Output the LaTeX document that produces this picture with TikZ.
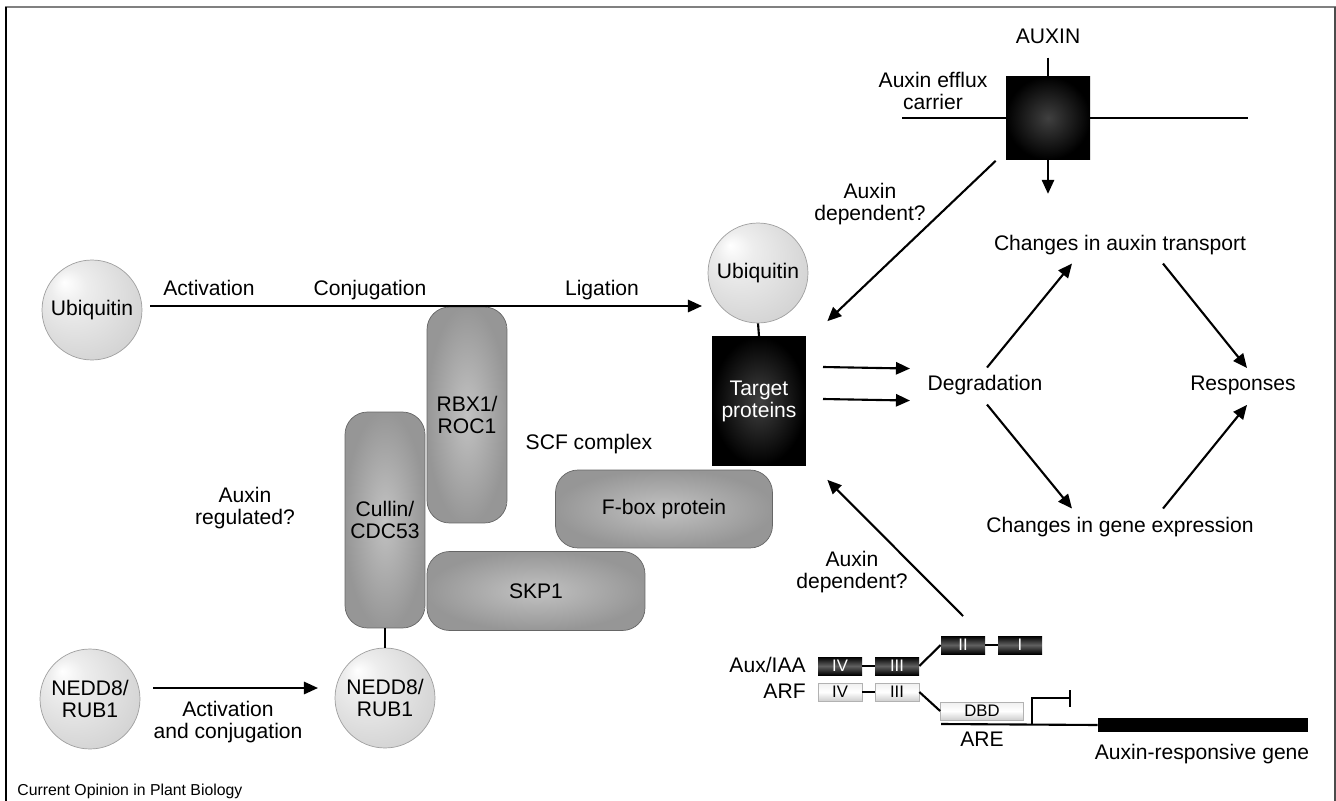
\documentclass[tikz,border=0pt]{standalone}
\usepackage{fontspec}
\setmainfont{Liberation Sans}
\usetikzlibrary{arrows.meta,calc}
\pgfdeclareradialshading{globeshade}{\pgfpoint{-14bp}{14bp}}{color(0bp)=(white); color(9bp)=(white!93!black); color(32bp)=(white!83!black); color(50bp)=(white!73!black)}

\begin{document}
\begin{tikzpicture}[x=0.02cm,y=-0.02cm,font=\fontsize{12}{12.5}\selectfont,
  globe/.style={circle,minimum size=2cm,inner sep=0,shading=globeshade,draw=gray!75,align=center},
  subunit/.style={rectangle,rounded corners=0.45cm,inner sep=0,inner color=gray!48,outer color=gray!82,draw=black!60,align=center},
  blackbox/.style={rectangle,inner sep=0,inner color=black!75,outer color=black,text=white,align=center},
  darkexon/.style={rectangle,minimum width=0.88cm,minimum height=0.36cm,inner sep=0,top color=black,bottom color=black,middle color=black!62,text=white,font=\fontsize{9.5}{10}\selectfont},
  lightexon/.style={darkexon,top color=gray!12,bottom color=gray!38,middle color=white,draw=gray!60,text=black},
  lbl/.style={align=center,inner sep=0},
  arr/.style={very thick,arrows=-{Triangle[length=8pt,width=7pt]}}]

\useasboundingbox (0,0) rectangle (1336,801);
\draw[gray,line width=0.04cm] (5,7) -- (1336,7);
\draw[line width=0.03cm] (6,7) -- (6,801);
\draw[gray!60!black,line width=0.03cm] (1335,7) -- (1335,801);

% ubiquitin and NEDD8 spheres
\node[globe] (U1) at (92,310) {Ubiquitin};
\node[globe] (U2) at (758,273) {Ubiquitin};
\node[globe] (N1) at (90,699) {NEDD8/\\RUB1};
\node[globe] (N2) at (385,698) {NEDD8/\\RUB1};

% SCF complex
\node[subunit,minimum width=1.6cm,minimum height=4.32cm] (R) at (467,415) {RBX1/\\ROC1};
\node[subunit,minimum width=1.6cm,minimum height=4.32cm] (C) at (385,520) {Cullin/\\CDC53};
\node[subunit,minimum width=4.36cm,minimum height=1.58cm] (S) at (536,591) {SKP1};
\node[subunit,minimum width=4.34cm,minimum height=1.56cm] (F) at (664,509) {F-box protein};
\node[lbl,anchor=base] (SC) at (589,449) {SCF complex};
\node[blackbox,minimum width=1.88cm,minimum height=2.58cm] (T) at (759,401) {Target\\proteins};

\node[lbl,anchor=base] (a1) at (209,295) {Activation};
\node[lbl,anchor=base] (a2) at (370,295) {Conjugation};
\node[lbl,anchor=base] (a3) at (602,295) {Ligation};
\node[lbl] (a4) at (228,722) {Activation\\and conjugation};
\node[lbl] (Q0) at (245,508) {Auxin\\regulated?};

\draw[arr] ($(U1)+(58,-4)$) -- ($(U2)+(-56,33)$);
\draw[arr] ($(N1)+(63,-11)$) -- ($(N2)+(-67,-10)$);
\draw[very thick] (U2.south) -- (T.north);
\draw[very thick] (C.south) -- (N2.north);

% auxin efflux carrier in the membrane
\node[blackbox,minimum width=1.68cm,minimum height=1.66cm] (X) at (1048,118) {};
\node[lbl,anchor=base] (Ax) at (1048,43) {AUXIN};
\node[lbl] (E) at (933,91) {Auxin efflux\\carrier};
\coordinate (M1) at (902,118);
\coordinate (M2) at (1248,118);
\draw[very thick] (M1) -- (X.west);
\draw[very thick] (X.east) -- (M2);
\draw[very thick] ($(Ax.south)+(0,14)$) -- (X.north);
\draw[arr] (X.south) -- ($(X.south)+(0,34)$);

% responses
\node[lbl,anchor=base] (D) at (985,390) {Degradation};
\node[lbl,anchor=base] (A) at (1120,250) {Changes in auxin transport};
\node[lbl,anchor=base] (G) at (1120,532) {Changes in gene expression};
\node[lbl,anchor=base] (Rsp) at (1243,390) {Responses};
\draw[arr] ($(T)+(64,-34)$) -- ($(D)+(-75,-16)$);
\draw[arr] ($(T)+(64,-2)$) -- ($(D)+(-75,16)$);
\draw[arr] ($(D)+(2,-17)$) -- ($(A)+(-48,19)$);
\draw[arr] ($(A)+(43,19)$) -- ($(Rsp)+(4,-17)$);
\draw[arr] ($(D)+(2,20)$) -- ($(G)+(-48,-18)$);
\draw[arr] ($(G)+(43,-18)$) -- ($(Rsp)+(4,20)$);

\node[lbl] (Q1) at (870,204) {Auxin\\dependent?};
\node[lbl] (Q2) at (852,572) {Auxin\\dependent?};
\draw[arr] ($(X.south west)+(-10,1)$) -- ($(T.north east)+(21,-15)$);

% Aux/IAA and ARF domains on the promoter
\node[darkexon] (A4) at (840,666) {IV};
\node[darkexon] (A3) at (897,666) {III};
\node[darkexon] (A2) at (963,645) {II};
\node[darkexon] (A1) at (1020,645) {I};
\node[lightexon] (F4) at (840,692) {IV};
\node[lightexon] (F3) at (897,692) {III};
\node[lightexon,minimum width=1.66cm] (B) at (982,711) {DBD};
\node[lbl,anchor=base east] (LA) at (806,672) {Aux/IAA};
\node[lbl,anchor=base east] (LF) at (806,698) {ARF};
\draw[very thick] (A4.east) -- (A3.west);
\draw[very thick] (A2.east) -- (A1.west);
\draw[very thick] (F4.east) -- (F3.west);
\draw[very thick] (A3.east) -- (A2.west);
\draw[very thick] (F3.east) -- (B.west);
\draw[arr] ($(A2)+(0,-29)$) -- ($(T.south east)+(21,14)$);

\node[rectangle,fill=black,minimum width=4.2cm,minimum height=0.28cm,inner sep=0] (GN) at (1203,725) {};
\coordinate (R0) at (941,724);
\draw[very thick] (R0) -- (GN.west);
\draw[very thick] (1032,724) -- (1032,698) -- (1070,698);
\draw[very thick] (1070,690) -- (1070,707);
\node[lbl,anchor=base] (ARE) at (982,746) {ARE};
\node[lbl,anchor=base] (GL) at (1202,759) {Auxin-responsive gene};

\node[lbl,anchor=base west,font=\fontsize{9}{10}\selectfont] (CO) at (17,795) {Current Opinion in Plant Biology};
\end{tikzpicture}
\end{document}
